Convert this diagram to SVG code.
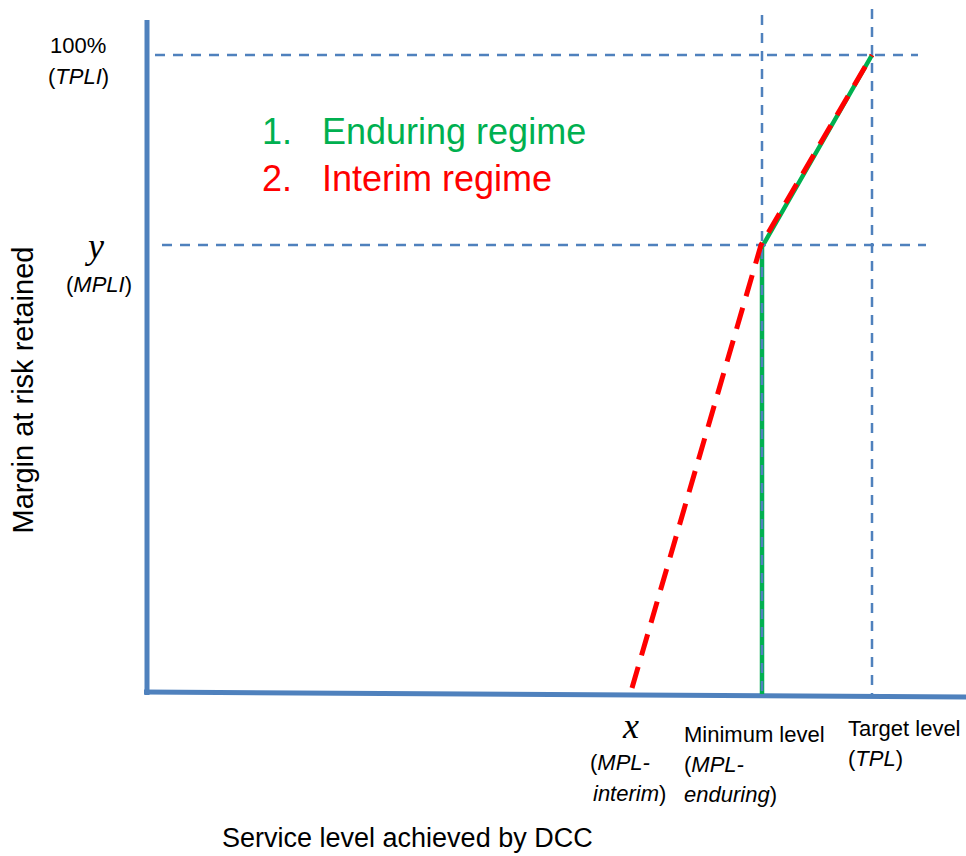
<svg xmlns="http://www.w3.org/2000/svg" width="966" height="856" viewBox="0 0 966 856">
<style>
.ax{stroke:#4f81bd;stroke-width:5;fill:none;stroke-linecap:butt}
.grid{stroke:#4f81bd;stroke-width:2.5;fill:none;stroke-dasharray:10,8}
.t{font-family:"Liberation Sans",Arial,sans-serif;fill:#000}
.s{font-size:22px}
.m{font-family:"Liberation Serif","Times New Roman",serif;font-style:italic;fill:#000;font-size:36px}
.g{fill:#00b050;font-size:36px}
.r{fill:#ff0000;font-size:36px}
</style>
<rect width="966" height="856" fill="#fff"/>
<g id="axes">
<line class="ax" x1="147" y1="20" x2="147" y2="695"/>
<line class="ax" x1="144" y1="692" x2="966" y2="697"/>
</g>
<g id="connectors">
<path d="M762 694 V247 L872 55" stroke="#00b050" stroke-width="4.5" fill="none"/>
<line class="grid" x1="155" y1="55" x2="918" y2="55"/>
<line class="grid" x1="162" y1="245" x2="926" y2="245"/>
<line class="grid" x1="762" y1="15" x2="762" y2="692"/>
<line class="grid" x1="872" y1="9" x2="872" y2="694"/>
<path d="M632 688 L761 245 L872 55" stroke="#ff0000" stroke-width="5" fill="none" stroke-dasharray="22,12"/>
</g>
<g id="legend">
<text class="t g" x="262" y="144">1.</text>
<text class="t g" x="322" y="144">Enduring regime</text>
<text class="t r" x="262" y="191">2.</text>
<text class="t r" x="322" y="191">Interim regime</text>
</g>
<g id="y-labels">
<text class="t s" x="50" y="53">100%</text>
<text class="t s" x="48" y="84">(<tspan font-style="italic">TPLI</tspan>)</text>
<text class="m" x="88" y="258">y</text>
<text class="t s" x="66" y="292">(<tspan font-style="italic">MPLI</tspan>)</text>
<text class="t" x="0" y="0" font-size="29" text-anchor="middle" transform="translate(33,390) rotate(-90)">Margin at risk retained</text>
</g>
<g id="x-labels">
<text class="m" x="623" y="738">x</text>
<text class="t s" x="590" y="770">(<tspan font-style="italic">MPL-</tspan></text>
<text class="t s" x="593" y="801"><tspan font-style="italic">interim</tspan>)</text>
<text class="t s" x="684" y="742">Minimum level</text>
<text class="t s" x="684" y="772">(<tspan font-style="italic">MPL-</tspan></text>
<text class="t s" x="684" y="802"><tspan font-style="italic">enduring</tspan>)</text>
<text class="t s" x="848" y="736">Target level</text>
<text class="t s" x="848" y="766">(<tspan font-style="italic">TPL</tspan>)</text>
<text class="t" x="222" y="847" font-size="27">Service level achieved by DCC</text>
</g>
</svg>
